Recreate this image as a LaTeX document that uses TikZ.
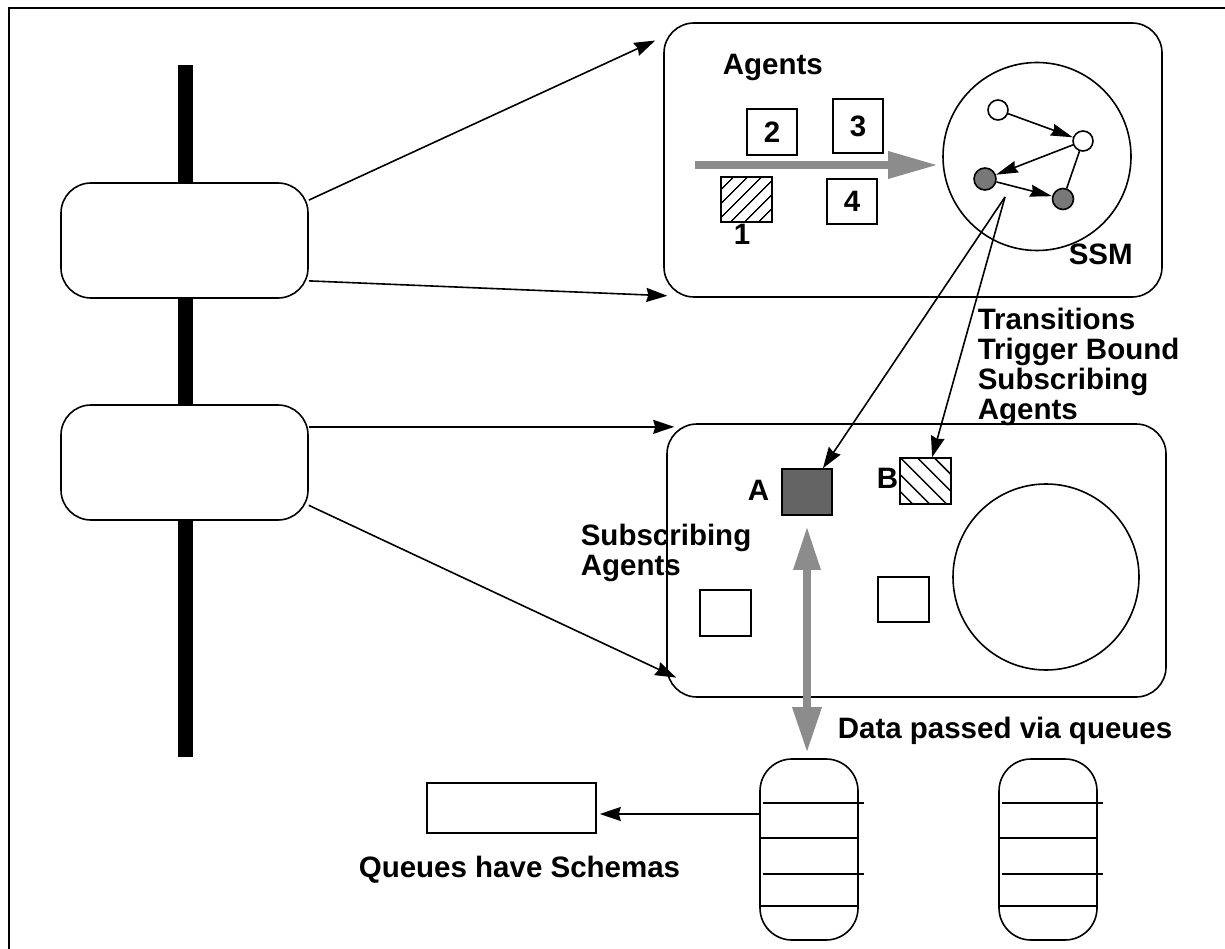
\documentclass[tikz,border=0pt]{standalone}
\usepackage{fontspec}
\setmainfont{Liberation Sans}
\usetikzlibrary{arrows.meta,patterns.meta}
\definecolor{stip}{RGB}{140,140,140}
\definecolor{dstip}{RGB}{100,100,100}
\definecolor{sstip}{RGB}{120,120,120}
\begin{document}
\begin{tikzpicture}[x=1pt,y=-1pt,line width=1.6pt,
  lbl/.style={inner sep=0pt,font=\fontsize{29.5}{30}\selectfont\bfseries},
  rbox/.style={draw,rounded corners=30pt,fill=white,inner sep=0pt},
  sq/.style={draw,inner sep=0pt,font=\fontsize{29.5}{30}\selectfont\bfseries},
  state/.style={draw,circle,inner sep=0pt,fill=white},
  arr/.style={-{Stealth[length=21pt,width=14pt,inset=2pt]}},
  sarr/.style={-{Stealth[length=22pt,width=12pt,inset=2pt]}},
  garr/.style={draw=stip,line width=8pt,-{Triangle[length=48pt,width=28pt,line width=0pt,fill=stip]}},
  gdarr/.style={draw=stip,line width=8pt,{Triangle[length=42pt,width=28pt,line width=0pt,fill=stip]}-{Triangle[length=44pt,width=30pt,line width=0pt,fill=stip]}},
  queue/.style={draw,rounded corners=32pt,fill=white,inner sep=0pt,minimum width=98pt,minimum height=181pt}
]
\useasboundingbox (0,0) rectangle (1225,949);
% outer frame
\draw[line width=1.6pt] (9,949) -- (9,8) -- (1225,8);
% bar
\fill (178,65) rectangle (193,757);
% left boxes
\node[rbox,minimum width=247pt,minimum height=115pt] (b1) at (184.5,240.5) {};
\node[rbox,minimum width=247pt,minimum height=115pt] (b2) at (184.5,462.5) {};
% right boxes
\node[rbox,minimum width=498pt,minimum height=274pt] (top) at (913,160) {};
\node[rbox,minimum width=499pt,minimum height=273pt] (low) at (916.5,560.5) {};
% connectors from left boxes
\draw[arr] (b1.18) -- ([shift={(-8,-3)}]top.155.5);
\draw[arr] (b1.-18.6) -- ([shift={(3,-2)}]top.209.6);
\draw[arr] (b2.16) -- ([xshift=8pt]b2.16 -| low.west);
\draw[arr] (b2.-19) -- ([shift={(10,-5)}]low.206.1);
% top box content
\node[lbl,anchor=base west] (agl) at (722,75) {Agents};
\node[sq,minimum width=50pt,minimum height=46pt] (a2) at (772,132) {2};
\node[sq,minimum width=50pt,minimum height=54pt] (a3) at (858,126) {3};
\node[sq,minimum width=50pt,minimum height=45pt] (a4) at (852,201.5) {4};
\node[sq,minimum width=51pt,minimum height=45pt,pattern={Lines[angle=45,distance=10.5pt,line width=1.5pt]}] (a1) at (746.5,199.5) {};
\node[lbl,anchor=base west] (l1) at (733,245) {1};
\node[draw,circle,inner sep=0pt,minimum size=188pt] (ssm) at (1037,156.5) {};
\node[lbl,anchor=base west] (ssml) at (1068,265) {SSM};
\coordinate (gs) at (695,165);
\draw[garr] (gs) -- ([xshift=-6pt]gs -| ssm.west);
\node[state,minimum size=20pt] (s1) at (998,110) {};
\node[state,minimum size=20pt] (s2) at (1083,141) {};
\node[state,minimum size=22pt,fill=sstip] (s3) at (985,179) {};
\node[state,minimum size=21pt,fill=sstip] (s4) at (1063,199) {};
\draw[sarr] (s1) -- (s2);
\draw[sarr] (s2) -- (s3);
\draw[sarr] (s3) -- (s4);
\draw (s2) -- (s4);
% lower box content
\node[sq,minimum width=50pt,minimum height=46pt,fill=dstip] (A) at (807,492) {};
\node[sq,minimum width=51pt,minimum height=46pt,pattern={Lines[angle=-45,distance=12pt,line width=1.5pt]}] (B) at (925.5,481) {};
\node[lbl,anchor=base west] (Al) at (747,500) {A};
\node[lbl,anchor=base west] (Bl) at (876,488) {B};
\node[sq,minimum width=51pt,minimum height=46pt] (c1) at (725.5,613) {};
\node[sq,minimum width=51pt,minimum height=45pt] (c2) at (903.5,599.5) {};
\node[draw,circle,inner sep=0pt,minimum size=186pt] (bigc) at (1046,577) {};
\node[lbl,anchor=north west,align=left] (subl) at (580,523) {Subscribing\\Agents};
% transitions
\coordinate (trig) at (1005,197);
\draw[arr] (trig) -- (A);
\draw[arr] (trig) -- (B);
\node[lbl,anchor=north west,align=left] (tl) at (977,307.5) {Transitions\\Trigger Bound\\Subscribing\\Agents};
% queues
\node[queue] (q1) at (809,849.5) {};
\node[queue] (q2) at (1048,849.5) {};
\foreach \q in {q1,q2}{
  \draw ([shift={(4,-46.5)}]\q.west) -- ([shift={(5,-46.5)}]\q.east);
  \draw ([shift={(0,-11.5)}]\q.west) -- ([shift={(0,-11.5)}]\q.east);
  \draw ([shift={(4,24.5)}]\q.west) -- ([shift={(5,24.5)}]\q.east);
  \draw ([shift={(0,56.5)}]\q.west) -- ([shift={(0,56.5)}]\q.east);
}
\draw[gdarr] ([yshift=-12pt]A.south) -- ([yshift=7pt]A.south |- q1.north);
\node[lbl,anchor=base west] (dl) at (837,738) {Data passed via queues};
% schema
\node[draw,inner sep=0pt,minimum width=169pt,minimum height=50pt] (schema) at (511.5,808) {};
\coordinate (qs) at ([yshift=35.5pt]q1.west);
\draw[arr] (qs) -- ([xshift=3pt]qs -| schema.east);
\node[lbl,anchor=base west] (ql) at (358,877) {Queues have Schemas};
\end{tikzpicture}
\end{document}
